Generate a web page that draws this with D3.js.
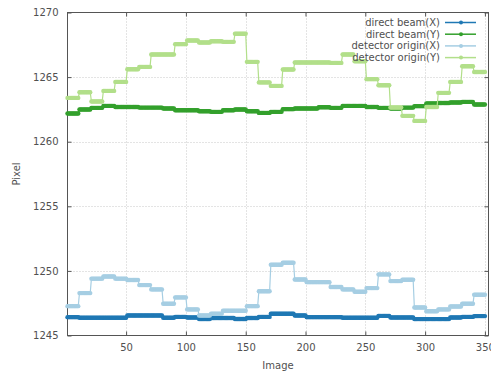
<!DOCTYPE html>
<html>
<head>
<meta charset="utf-8" />
<title>Pixel vs Image</title>
<script src="https://cdn.jsdelivr.net/npm/d3@7"></script>
<style>
body{margin:0;background:#fff;}
text{font-family:"DejaVu Sans",sans-serif;fill:#505050;}
</style>
</head>
<body>
<svg id="chart" width="491" height="374"></svg>
<script>
// values per block of 10 images (images 1..350)
var blockSize = 10;
var directBeamX = [1246.42,1246.37,1246.37,1246.37,1246.37,1246.55,1246.55,1246.55,1246.37,1246.44,
  1246.39,1246.27,1246.35,1246.35,1246.28,1246.35,1246.44,1246.68,1246.68,1246.55,
  1246.42,1246.42,1246.42,1246.37,1246.37,1246.37,1246.52,1246.39,1246.39,1246.27,
  1246.27,1246.27,1246.39,1246.44,1246.50];
var directBeamY = [1262.18,1262.49,1262.62,1262.77,1262.69,1262.69,1262.64,1262.64,1262.57,1262.44,
  1262.44,1262.36,1262.31,1262.44,1262.49,1262.36,1262.23,1262.31,1262.52,1262.57,
  1262.57,1262.67,1262.62,1262.77,1262.77,1262.69,1262.62,1262.57,1262.64,1262.75,
  1262.96,1263.00,1263.03,1263.08,1262.88];
var detectorX = [1247.27,1248.28,1249.40,1249.57,1249.40,1249.29,1248.90,1248.57,1247.46,1247.95,
  1247.02,1246.55,1246.68,1246.91,1246.91,1247.27,1248.43,1250.48,1250.63,1249.34,
  1249.13,1249.13,1248.75,1248.57,1248.39,1248.67,1249.73,1249.21,1249.32,1247.17,
  1246.88,1247.02,1247.25,1247.46,1248.15];
var detectorY = [1263.39,1263.83,1263.11,1263.93,1264.63,1265.61,1265.79,1266.75,1266.75,1267.55,
  1267.83,1267.68,1267.78,1267.73,1268.35,1266.18,1264.59,1264.32,1265.59,1266.13,
  1266.13,1266.13,1266.10,1266.75,1266.23,1264.84,1264.37,1262.65,1262.00,1261.61,
  1262.69,1263.78,1264.63,1265.84,1265.40];
var seriesNames = ["direct beam(X)","direct beam(Y)","detector origin(X)","detector origin(Y)"];
var seriesColors = ["#1f78b4","#33a02c","#a6cee3","#b2df8a"];
var xTicks = [50,100,150,200,250,300,350];
var yTicks = [1245,1250,1255,1260,1265,1270];

var series = [directBeamX,directBeamY,detectorX,detectorY].map(function(blocks,k){
  var pts = [];
  blocks.forEach(function(v,b){
    for(var j=1;j<=blockSize;j++) pts.push({image:b*blockSize+j,value:v});
  });
  return {name:seriesNames[k],color:seriesColors[k],points:pts};
});

var pLeft=67.5, pRight=488.5, pTop=12.5, pBottom=335.5;
var svg = d3.select("#chart");
var x = d3.scaleLinear().domain([1,353]).range([pLeft,pRight]);
var y = d3.scaleLinear().domain([1245,1270]).range([pBottom,pTop]);

// grid
var grid = svg.append("g");
grid.selectAll("line.gx").data(xTicks).enter().append("line")
  .attr("x1",function(d){return Math.round(x(d))+0.5;}).attr("x2",function(d){return Math.round(x(d))+0.5;})
  .attr("y1",pTop).attr("y2",pBottom)
  .attr("stroke","#c8c8c8").attr("stroke-dasharray","1,2");
grid.selectAll("line.gy").data(yTicks.slice(1,-1)).enter().append("line")
  .attr("y1",function(d){return Math.round(y(d))+0.5;}).attr("y2",function(d){return Math.round(y(d))+0.5;})
  .attr("x1",pLeft).attr("x2",pRight)
  .attr("stroke","#c8c8c8").attr("stroke-dasharray","1,2");

// axes with inward ticks
var ax = svg.append("g");
ax.append("g").attr("transform","translate(0,"+pBottom+")").call(d3.axisBottom(x).tickValues(xTicks).tickSizeInner(-4).tickSizeOuter(0).tickPadding(8));
ax.append("g").attr("transform","translate(0,"+pTop+")").call(d3.axisTop(x).tickValues(xTicks).tickSizeInner(-4).tickSizeOuter(0).tickFormat(""));
ax.append("g").attr("transform","translate("+pLeft+",0)").call(d3.axisLeft(y).tickValues(yTicks).tickSizeInner(-4).tickSizeOuter(0).tickPadding(9).tickFormat(d3.format("d")));
ax.append("g").attr("transform","translate("+pRight+",0)").call(d3.axisRight(y).tickValues(yTicks).tickSizeInner(-4).tickSizeOuter(0).tickFormat(""));
ax.selectAll(".domain").remove();
ax.selectAll(".tick line").attr("stroke","#555");
ax.selectAll(".tick text").style("font-size","10px").style("font-family","DejaVu Sans").attr("fill","#505050");
svg.append("rect").attr("x",pLeft).attr("y",pTop).attr("width",pRight-pLeft).attr("height",pBottom-pTop)
  .attr("fill","none").attr("stroke","#555").attr("stroke-width",1);

// series
var line = d3.line().x(function(d){return x(d.image);}).y(function(d){return y(d.value);});
var plot = svg.append("g");
series.forEach(function(s){
  var g = plot.append("g");
  g.append("path").attr("d",line(s.points)).attr("fill","none").attr("stroke",s.color).attr("stroke-width",1.2);
  g.selectAll("circle").data(s.points).enter().append("circle")
    .attr("cx",function(d){return x(d.image);}).attr("cy",function(d){return y(d.value);})
    .attr("r",2.2).attr("fill",s.color);
});

// legend
var legend = svg.append("g");
series.forEach(function(s,i){
  var ly = 22.5 + i*11.7;
  legend.append("text").attr("x",440).attr("y",ly).attr("dy","0.35em").attr("text-anchor","end")
    .style("font-size","10px").text(s.name);
  legend.append("line").attr("x1",445).attr("x2",476).attr("y1",ly).attr("y2",ly)
    .attr("stroke",s.color).attr("stroke-width",1.5);
  legend.append("circle").attr("cx",461).attr("cy",ly).attr("r",2).attr("fill",s.color);
});

// axis labels
svg.append("text").attr("x",278).attr("y",365).attr("dy","0.35em").attr("text-anchor","middle")
  .style("font-size","10px").text("Image");
svg.append("text").attr("transform","translate(16,174) rotate(-90)").attr("dy","0.35em").attr("text-anchor","middle")
  .style("font-size","10px").text("Pixel");
</script>
</body>
</html>
